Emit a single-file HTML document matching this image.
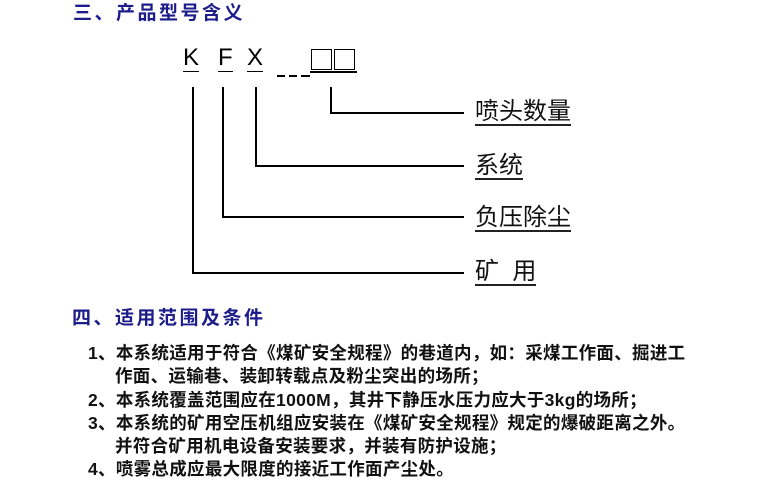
<!DOCTYPE html>
<html><head><meta charset="utf-8"><style>
body{margin:0;width:757px;height:488px;background:#fff;position:relative;overflow:hidden;font-family:"Liberation Sans","Noto Sans CJK SC",sans-serif}
.a{position:absolute;white-space:nowrap}
.t{color:#1c1c8a;font-weight:bold;font-size:19px;letter-spacing:2.5px;line-height:20px}
.L{font-size:24px;line-height:24px;color:#000;border-bottom:1.5px solid #000;padding-bottom:1px}
.lab{font-size:24px;line-height:25px;color:#111;border-bottom:2px solid #222}
.ln{position:absolute;background:#000}
.it{font-size:17.5px;font-weight:bold;color:#111;line-height:20px;letter-spacing:0.3px}
.bx{position:absolute;border:1.5px solid #000;width:19px;height:19px;top:49px}
</style></head><body>
<div class="a t" style="left:73px;top:4px">三、产品型号含义</div>
<div class="a L" style="left:183px;top:46px">K</div>
<div class="a L" style="left:218px;top:46px">F</div>
<div class="a L" style="left:247px;top:46px">X</div>
<div class="ln" style="left:277px;top:75px;width:8px;height:1.5px"></div>
<div class="ln" style="left:289px;top:75px;width:8px;height:1.5px"></div>
<div class="ln" style="left:301px;top:75px;width:9px;height:1.5px"></div>
<div class="bx" style="left:311px"></div>
<div class="bx" style="left:334px"></div>
<div class="ln" style="left:310px;top:71px;width:47px;height:1.5px"></div>

<div class="ln" style="left:192px;top:87px;width:2px;height:187px"></div>
<div class="ln" style="left:222px;top:87px;width:2px;height:131px"></div>
<div class="ln" style="left:255px;top:87px;width:2px;height:79px"></div>
<div class="ln" style="left:330px;top:87px;width:2px;height:27px"></div>
<div class="ln" style="left:330px;top:112px;width:134px;height:2px"></div>
<div class="ln" style="left:255px;top:165px;width:209px;height:2px"></div>
<div class="ln" style="left:222px;top:216px;width:242px;height:2px"></div>
<div class="ln" style="left:192px;top:272px;width:272px;height:2px"></div>

<div class="a lab" style="left:475px;top:99px">喷头数量</div>
<div class="a lab" style="left:475px;top:153px">系统</div>
<div class="a lab" style="left:475px;top:205px">负压除尘</div>
<div class="a lab" style="left:475px;top:259px">矿&nbsp;&nbsp;用</div>

<div class="a t" style="left:72px;top:309px">四、适用范围及条件</div>
<div class="a it" style="left:88px;top:343px">1、本系统适用于符合《煤矿安全规程》的巷道内，如：采煤工作面、掘进工</div>
<div class="a it" style="left:115px;top:366px">作面、运输巷、装卸转载点及粉尘突出的场所；</div>
<div class="a it" style="left:88px;top:390px">2、本系统覆盖范围应在1000M，其井下静压水压力应大于3kg的场所；</div>
<div class="a it" style="left:88px;top:413px">3、本系统的矿用空压机组应安装在《煤矿安全规程》规定的爆破距离之外。</div>
<div class="a it" style="left:115px;top:436px">并符合矿用机电设备安装要求，并装有防护设施；</div>
<div class="a it" style="left:88px;top:459px">4、喷雾总成应最大限度的接近工作面产尘处。</div>
</body></html>
